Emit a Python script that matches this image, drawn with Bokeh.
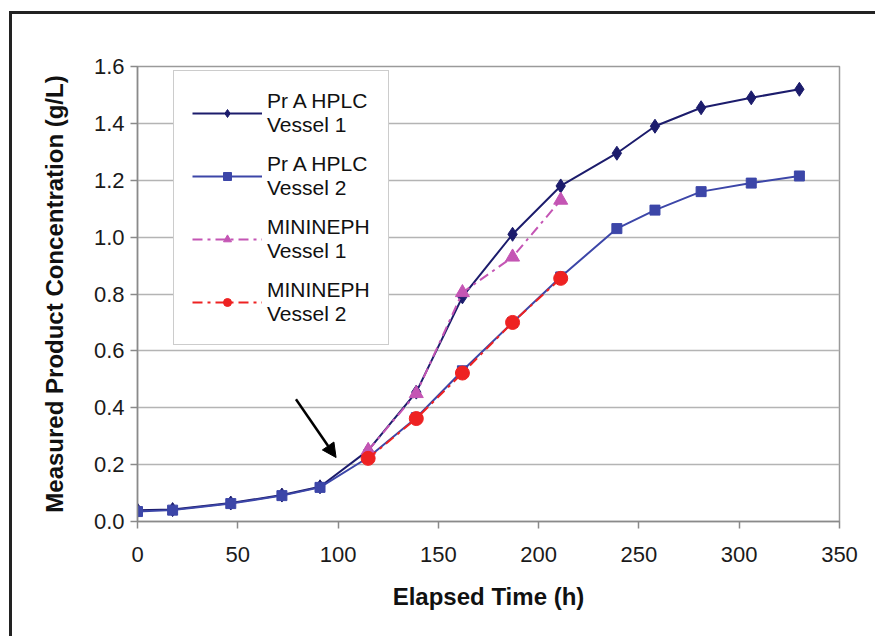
from bokeh.plotting import figure
from bokeh.models import Legend, LegendItem, Arrow, NormalHead, SingleIntervalTicker, NumeralTickFormatter, Range1d
from bokeh.embed import file_html
from bokeh.resources import INLINE

# ---- data ----
time_prA = [0, 17.5, 46.5, 72, 91, 115, 139, 162, 187, 211, 239, 258, 281, 306, 330]
prA_vessel1 = [0.04, 0.042, 0.065, 0.093, 0.122, 0.25, 0.455, 0.79, 1.01, 1.18, 1.295, 1.39, 1.455, 1.49, 1.52]
prA_vessel2 = [0.035, 0.040, 0.063, 0.091, 0.12, 0.225, 0.365, 0.53, 0.70, 0.86, 1.03, 1.095, 1.16, 1.19, 1.215]
time_mini = [115, 139, 162, 187, 211]
mini_vessel1 = [0.25, 0.45, 0.805, 0.93, 1.13]
mini_vessel2 = [0.222, 0.362, 0.522, 0.70, 0.855]
arrow_start = (79, 0.43)
arrow_end = (99, 0.225)
x_ticks_step = 50
y_ticks_step = 0.2

FONT = "Liberation Sans"
C1 = "#1c1c6c"
C2 = "#3c46a8"
C3 = "#c455b4"
C4 = "#ee2222"

frame_css = ("linear-gradient(#222222, #222222) 9px 11px / 3px 100% no-repeat, "
             "linear-gradient(#222222, #222222) 9px 11px / 100% 3px no-repeat, white")

p = figure(width=875, height=636, output_backend="svg", toolbar_location=None,
           x_range=Range1d(0, 350), y_range=Range1d(0, 1.6),
           min_border_left=137, min_border_right=36, min_border_top=66, min_border_bottom=115,
           styles={"background": frame_css})
p.background_fill_color = "white"
p.border_fill_alpha = 0
p.outline_line_color = "#9a9a9a"
p.outline_line_width = 1.5

p.xgrid.grid_line_color = None
p.ygrid.grid_line_color = "#b4b4b4"
p.ygrid.grid_line_width = 1.5

for ax in (p.xaxis[0], p.yaxis[0]):
    ax.axis_line_color = "#8a8a8a"
    ax.axis_line_width = 1.5
    ax.major_tick_line_color = "#8a8a8a"
    ax.major_tick_line_width = 1.5
    ax.major_tick_out = 7
    ax.major_tick_in = 0
    ax.minor_tick_line_color = None
    ax.major_label_text_font = FONT
    ax.major_label_text_font_size = "22px"
    ax.major_label_text_color = "#1a1a1a"
    ax.axis_label_text_font = FONT
    ax.axis_label_text_font_size = "24px"
    ax.axis_label_text_font_style = "bold"
    ax.axis_label_text_color = "#111111"

p.xaxis.ticker = SingleIntervalTicker(interval=x_ticks_step)
p.yaxis.ticker = SingleIntervalTicker(interval=y_ticks_step)
p.yaxis.formatter = NumeralTickFormatter(format="0.0")
p.xaxis.axis_label = "Elapsed Time (h)"
p.yaxis.axis_label = "Measured Product Concentration (g/L)"
p.xaxis.major_label_standoff = 18
p.xaxis.axis_label_standoff = 18
p.yaxis.major_label_standoff = 6
p.yaxis.axis_label_standoff = 23

l1 = p.line(time_prA, prA_vessel1, line_color=C1, line_width=2)
m1 = p.scatter(time_prA, prA_vessel1, marker="diamond", size=14, fill_color=C1, line_color=C1)
l2 = p.line(time_prA, prA_vessel2, line_color=C2, line_width=2)
m2 = p.scatter(time_prA, prA_vessel2, marker="square", size=10, fill_color=C2, line_color=C2)
l3 = p.line(time_mini, mini_vessel1, line_color=C3, line_width=2, line_dash="10 5 3 5")
m3 = p.scatter(time_mini, mini_vessel1, marker="triangle", size=14, fill_color=C3, line_color=C3)
l4 = p.line(time_mini, mini_vessel2, line_color=C4, line_width=2, line_dash="10 5 3 5")
m4 = p.scatter(time_mini, mini_vessel2, marker="circle", size=14, fill_color=C4, line_color=C4)

p.add_layout(Arrow(end=NormalHead(size=14, fill_color="black", line_color="black"),
                   x_start=arrow_start[0], y_start=arrow_start[1],
                   x_end=arrow_end[0], y_end=arrow_end[1],
                   line_color="black", line_width=2.5))

legend = Legend(items=[
    LegendItem(label="Pr A HPLC\nVessel 1", renderers=[l1, m1]),
    LegendItem(label="Pr A HPLC\nVessel 2", renderers=[l2, m2]),
    LegendItem(label="MININEPH\nVessel 1", renderers=[l3, m3]),
    LegendItem(label="MININEPH\nVessel 2", renderers=[l4, m4]),
], location=(36, 176))
legend.margin = 0
legend.padding = 18
legend.spacing = 15
legend.glyph_width = 70
legend.label_standoff = 5
legend.label_text_font = FONT
legend.label_text_font_size = "21px"
legend.label_text_color = "#111111"
legend.border_line_color = "#9a9a9a"
legend.border_line_width = 1.5
legend.background_fill_alpha = 1
p.add_layout(legend)

open("out.html", "w").write(file_html(p, INLINE))
